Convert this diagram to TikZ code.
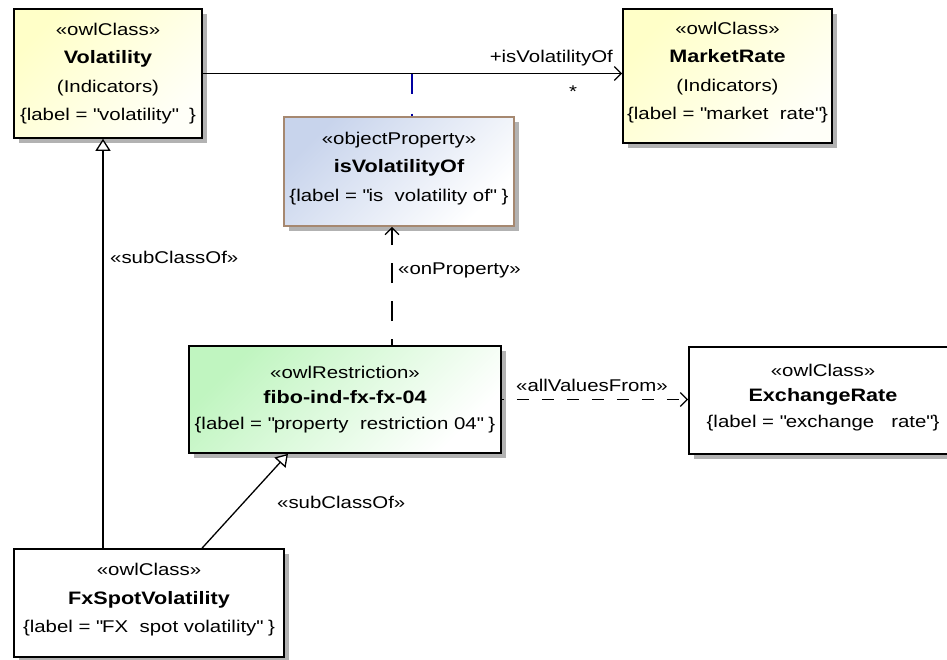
\documentclass[tikz,border=0pt]{standalone}
\usepackage{fontspec}
\setmainfont{Liberation Sans}[FakeStretch=1.2]
\usepackage{xcolor}
\usepackage{tikz}
\usetikzlibrary{arrows.meta, shadows, positioning}

\definecolor{clsylw}{RGB}{255,255,200}
\definecolor{propblue}{RGB}{200,212,236}
\definecolor{propedge}{RGB}{166,136,112}
\definecolor{rstgreen}{RGB}{192,245,192}
\definecolor{anchorblue}{RGB}{0,0,160}
\definecolor{shadowgray}{RGB}{178,178,178}

\newcommand{\nm}[1]{{\fontsize{18}{28}\selectfont\bfseries #1}}
\newcommand{\qq}{\textquotedbl}

\begin{document}
\begin{tikzpicture}[x=1pt,y=-1pt,
		umlbox/.style={draw=black, line width=1.6pt, align=center, inner sep=0pt, text depth=10pt,
			font=\fontsize{17}{28.5}\selectfont,
			drop shadow={shadow xshift=5pt, shadow yshift=-5pt, fill=shadowgray, opacity=1}},
		tightbox/.style={umlbox, font=\fontsize{17}{25.5}\selectfont},
		ylwfill/.style={top color=clsylw, bottom color=clsylw!12!white, shading angle=45},
		bluefill/.style={top color=propblue, bottom color=white, shading angle=45},
		grnfill/.style={top color=rstgreen, bottom color=white, shading angle=45},
		lbl/.style={font=\fontsize{17}{20}\selectfont, inner sep=0pt},
		conn/.style={line width=1.3pt},
		assoc/.style={conn, -{Straight Barb[length=7pt, width=14pt]}},
		gen/.style={conn, -{Triangle[open, length=12pt, width=15pt, fill=white]}},
		dep/.style={conn, -{Straight Barb[length=7pt, width=14pt]}}]
	\useasboundingbox (0,0) rectangle (947,659);
	\clip (0,0) rectangle (947,659);
	\node[umlbox, ylwfill, text depth=3pt, minimum width=188pt, minimum height=129pt] (vol) at (108,73.5)
		{«owlClass»\\\nm{Volatility}\\(Indicators)\\\{label = \qq volatility\qq\ \ \}};
	\node[umlbox, ylwfill, minimum width=209pt, minimum height=134pt] (mkt) at (727.5,76)
		{«owlClass»\\\nm{MarketRate}\\(Indicators)\\\{label = \qq market\ \ rate\qq\}};
	\node[umlbox, bluefill, draw=propedge, minimum width=230pt, minimum height=109pt] (prop) at (399,171.5)
		{«objectProperty»\\\nm{isVolatilityOf}\\\{label = \qq is\ \ volatility of\qq\ \}};
	\node[tightbox, grnfill, text depth=4pt, minimum width=312pt, minimum height=107pt] (rst) at (345,399.5)
		{«owlRestriction»\\\nm{fibo-ind-fx-fx-04}\\\{label = \qq property\ \ restriction 04\qq\ \}};
	\node[tightbox, fill=white, minimum width=268pt, minimum height=107pt] (exr) at (823,400.5)
		{«owlClass»\\\nm{ExchangeRate}\\\{label = \qq exchange\ \ \ rate\qq\}};
	\node[umlbox, fill=white, minimum width=270pt, minimum height=108pt] (fxs) at (149,603)
		{«owlClass»\\\nm{FxSpotVolatility}\\\{label = \qq FX\ \ spot volatility\qq\ \}};
	\draw[assoc] (vol.east) -- (mkt.west |- vol.east);
	\node[lbl, anchor=base east] (rolename) at (613,62) {+isVolatilityOf};
	\node[lbl] (rolemult) at (573,92) {*};
	\coordinate (assocmid) at (412,73.5);
	\draw[conn, anchorblue, dash pattern=on 20pt off 20pt] (assocmid) -- (assocmid |- prop.north);
	\draw[dep, dash pattern=on 20pt off 18pt, dash phase=14pt] (rst.north -| 392,0) -- (prop.south -| 392,0);
	\node[lbl, anchor=west] (onprop) at (398,270) {«onProperty»};
	\draw[dep, dash pattern=on 12pt off 13pt, dash phase=10pt] (rst.east) -- (exr.west |- rst.east);
	\node[lbl] (allval) at (592,385) {«allValuesFrom»};
	\draw[gen] (fxs.north -| 103,0) -- (vol.south -| 103,0);
	\node[lbl, anchor=west] (subvol) at (110,257) {«subClassOf»};
	\draw[gen] (fxs.north -| 202,0) -- (rst.south -| 288,0);
	\node[lbl, anchor=west] (subrst) at (277,502) {«subClassOf»};
\end{tikzpicture}
\end{document}
